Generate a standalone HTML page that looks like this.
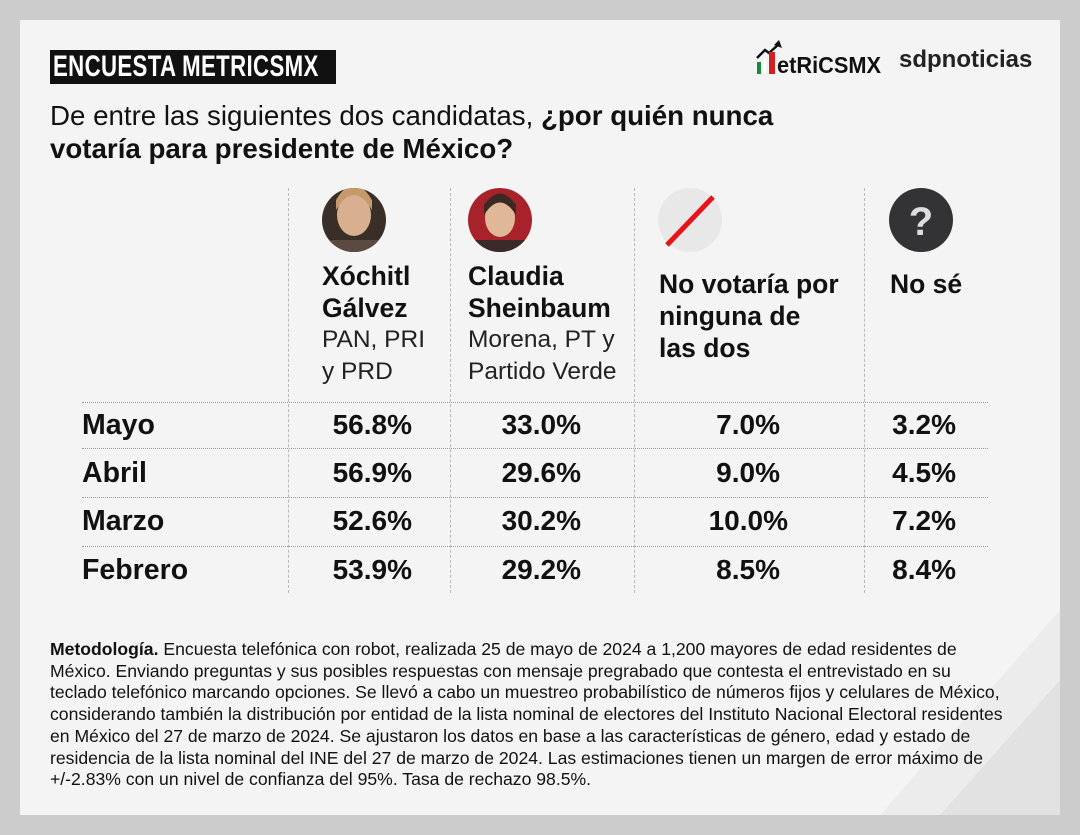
<!DOCTYPE html>
<html><head><meta charset="utf-8"><style>
*{margin:0;padding:0;box-sizing:border-box}
body{width:1080px;height:835px;background:#cccccc;position:relative;overflow:hidden;font-family:"Liberation Sans",Arial,sans-serif;color:#111}
#p{position:absolute;left:20px;top:20px;width:1040px;height:795px;background:#f4f4f4;overflow:hidden}
.a{position:absolute;white-space:nowrap}
.vl{position:absolute;width:0;border-left:1px dashed #b8b8b8;top:188px;height:405px}
.hl{position:absolute;left:82px;width:906px;height:0;border-top:1px dotted #999}
.h{font-weight:bold;font-size:26.5px;line-height:32px}
.s{font-size:24.5px;line-height:32px}
.m{font-weight:bold;font-size:28.5px;top:0}
.v{font-weight:bold;font-size:28px;text-align:right;width:120px}
.t{font-size:17.6px;line-height:21.7px}
</style></head><body>
<div id="p">
<svg width="1040" height="795" style="position:absolute;left:0;top:0"><polygon points="1040,590 860,795 1040,795" fill="#ececec"/><polygon points="1040,660 920,795 1040,795" fill="#e2e2e2"/></svg>
</div>
<div class="a" style="left:50px;top:50px;width:286px;height:34px;background:#111;color:#fff;font-size:30px;font-weight:bold;line-height:34px;padding-left:3px;"><span style="display:inline-block;transform:scaleX(0.74);transform-origin:left;letter-spacing:0.5px">ENCUESTA METRICSMX</span></div>
<div class="a" style="left:755px;top:40px;">
<svg width="130" height="36"><polyline points="2,18 10,10 14,13 24,4" stroke="#111" stroke-width="2.5" fill="none"/><polygon points="24,0 27,8 19,5" fill="#111"/><rect x="2" y="22" width="4" height="12" fill="#1a8a3a"/><rect x="8" y="18" width="4" height="16" fill="#fff" stroke="#ddd" stroke-width="0.5"/><rect x="14" y="12" width="6" height="22" fill="#d42020"/><text x="22" y="33" font-family="Liberation Sans" font-weight="bold" font-size="23" fill="#111" textLength="104" lengthAdjust="spacingAndGlyphs">etRiCSMX</text></svg></div>
<div class="a" style="left:899px;top:46px;font-size:24px;font-weight:bold;color:#222">sdpnoticias</div>
<div class="a" style="left:50px;top:99px;font-size:27.7px;line-height:33px">De entre las siguientes dos candidatas, <b>¿por quién nunca</b><br><b>votaría para presidente de México?</b></div>

<div class="vl" style="left:288px"></div><div class="vl" style="left:450px"></div><div class="vl" style="left:634px"></div><div class="vl" style="left:864px"></div>

<svg class="a" style="left:0;top:0" width="1080" height="260">
<defs><clipPath id="c1"><circle cx="354" cy="220" r="32"/></clipPath><clipPath id="c2"><circle cx="500" cy="220" r="32"/></clipPath></defs>
<circle cx="354" cy="220" r="32" fill="#3a2e28"/>
<g clip-path="url(#c1)"><ellipse cx="354" cy="215" rx="17" ry="21" fill="#d9b08f"/><path d="M336,210 Q354,180 372,210 L372,200 Q354,170 336,200Z" fill="#c59a6a"/><rect x="322" y="240" width="64" height="20" fill="#5a4a42"/></g>
<circle cx="500" cy="220" r="32" fill="#a8222c"/>
<g clip-path="url(#c2)"><ellipse cx="500" cy="218" rx="15" ry="19" fill="#e0b898"/><path d="M484,215 Q500,190 516,215 L516,205 Q500,182 484,205Z" fill="#3b2a22"/><rect x="468" y="240" width="64" height="20" fill="#3a2a2a"/></g>
<circle cx="690" cy="220" r="32" fill="#e8e8e8"/>
<line x1="667" y1="245" x2="713" y2="197" stroke="#e8121a" stroke-width="5"/>
<circle cx="921" cy="220" r="32" fill="#333336"/>
<text x="921" y="235" text-anchor="middle" font-family="Liberation Sans" font-weight="bold" font-size="40" fill="#ddd">?</text>
</svg>

<div class="a" style="left:322px;top:260px"><div class="h">Xóchitl<br>Gálvez</div><div class="s" style="color:#222">PAN, PRI<br>y PRD</div></div>
<div class="a" style="left:468px;top:260px"><div class="h">Claudia<br>Sheinbaum</div><div class="s" style="color:#222">Morena, PT y<br>Partido Verde</div></div>
<div class="a h" style="left:659px;top:268px">No votaría por<br>ninguna de<br>las dos</div>
<div class="a h" style="left:890px;top:268px">No sé</div>

<div class="hl" style="top:402px"></div><div class="hl" style="top:448px"></div><div class="hl" style="top:497px"></div><div class="hl" style="top:546px"></div>

<div class="a m" style="left:82px;top:409px">Mayo</div>
<div class="a m" style="left:82px;top:457px">Abril</div>
<div class="a m" style="left:82px;top:505px">Marzo</div>
<div class="a m" style="left:82px;top:554px">Febrero</div>

<div class="a v" style="left:292px;top:409px">56.8%</div><div class="a v" style="left:461px;top:409px">33.0%</div><div class="a v" style="left:660px;top:409px">7.0%</div><div class="a v" style="left:836px;top:409px">3.2%</div>
<div class="a v" style="left:292px;top:457px">56.9%</div><div class="a v" style="left:461px;top:457px">29.6%</div><div class="a v" style="left:660px;top:457px">9.0%</div><div class="a v" style="left:836px;top:457px">4.5%</div>
<div class="a v" style="left:292px;top:505px">52.6%</div><div class="a v" style="left:461px;top:505px">30.2%</div><div class="a v" style="left:668px;top:505px">10.0%</div><div class="a v" style="left:836px;top:505px">7.2%</div>
<div class="a v" style="left:292px;top:554px">53.9%</div><div class="a v" style="left:461px;top:554px">29.2%</div><div class="a v" style="left:660px;top:554px">8.5%</div><div class="a v" style="left:836px;top:554px">8.4%</div>

<div class="a t" style="left:50px;top:639px"><b>Metodología.</b> Encuesta telefónica con robot, realizada 25 de mayo de 2024 a 1,200 mayores de edad residentes de<br>México. Enviando preguntas y sus posibles respuestas con mensaje pregrabado que contesta el entrevistado en su<br>teclado telefónico marcando opciones. Se llevó a cabo un muestreo probabilístico de números fijos y celulares de México,<br>considerando también la distribución por entidad de la lista nominal de electores del Instituto Nacional Electoral residentes<br>en México del 27 de marzo de 2024. Se ajustaron los datos en base a las características de género, edad y estado de<br>residencia de la lista nominal del INE del 27 de marzo de 2024. Las estimaciones tienen un margen de error máximo de<br>+/-2.83% con un nivel de confianza del 95%. Tasa de rechazo 98.5%.</div>
</body></html>
